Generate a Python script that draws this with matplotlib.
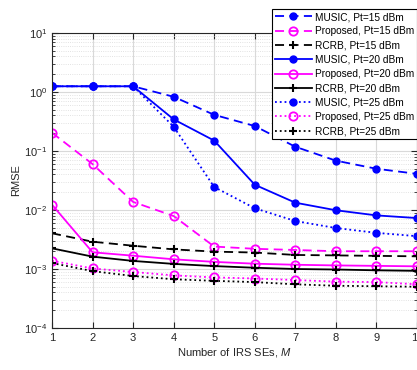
import numpy as np
import matplotlib.pyplot as plt

# number of IRS SEs
M = [1, 2, 3, 4, 5, 6, 7, 8, 9, 10]

# RMSE values
music_15 = [1.25, 1.25, 1.25, 0.83, 0.41, 0.265, 0.118, 0.0686, 0.050, 0.041]
prop_15 = [0.204, 0.060, 0.0137, 0.0079, 0.0024, 0.0022, 0.0021, 0.0020, 0.0020, 0.0020]
rcrb_15 = [0.00403, 0.0029, 0.00248, 0.00215, 0.00197, 0.0019, 0.00173, 0.0017, 0.00167, 0.00164]

music_20 = [1.25, 1.25, 1.25, 0.344, 0.15, 0.0268, 0.0133, 0.0099, 0.0081, 0.0073]
prop_20 = [0.0123, 0.00192, 0.00168, 0.00146, 0.00132, 0.00123, 0.00118, 0.00115, 0.00113, 0.00111]
rcrb_20 = [0.00224, 0.00162, 0.00137, 0.00122, 0.00112, 0.00105, 0.0010, 0.00098, 0.00095, 0.00093]

music_25 = [1.25, 1.25, 1.25, 0.258, 0.0245, 0.0107, 0.0065, 0.00495, 0.0041, 0.0036]
prop_25 = [0.00138, 0.00102, 0.00089, 0.00078, 0.00072, 0.00069, 0.00065, 0.00061, 0.0006, 0.00055]
rcrb_25 = [0.00126, 0.00092, 0.00076, 0.00067, 0.00063, 0.0006, 0.00055, 0.00052, 0.00051, 0.0005]

plt.rcParams['font.family'] = ['Liberation Sans', 'DejaVu Sans']
plt.rcParams['mathtext.fontset'] = 'custom'
plt.rcParams['mathtext.it'] = 'Liberation Sans:italic'
plt.rcParams['mathtext.rm'] = 'Liberation Sans'

fig = plt.figure(figsize=(4.17, 3.70), dpi=100)
ax = fig.add_axes([52/417, 1 - 328/370, (417 - 52)/417, (328 - 33)/370])

blue = (0, 0, 1)
mag = (1, 0, 1)
lw = 1.3
dash = (0, (5, 3))

ax.semilogy(M, music_15, ls=dash, color=blue, lw=lw, marker='o', ms=5, mfc=blue, label='MUSIC, Pt=15 dBm')
ax.semilogy(M, prop_15, ls=dash, color=mag, lw=lw, marker='o', ms=6, mfc='none', mew=1.3, label='Proposed, Pt=15 dBm')
ax.semilogy(M, rcrb_15, ls=dash, color='k', lw=lw, marker='+', ms=6, mew=1.5, label='RCRB, Pt=15 dBm')
ax.semilogy(M, music_20, '-', color=blue, lw=lw, marker='o', ms=5, mfc=blue, label='MUSIC, Pt=20 dBm')
ax.semilogy(M, prop_20, '-', color=mag, lw=lw, marker='o', ms=6, mfc='none', mew=1.3, label='Proposed, Pt=20 dBm')
ax.semilogy(M, rcrb_20, '-', color='k', lw=lw, marker='+', ms=6, mew=1.5, label='RCRB, Pt=20 dBm')
ax.semilogy(M, music_25, ':', color=blue, lw=lw, marker='o', ms=5, mfc=blue, label='MUSIC, Pt=25 dBm')
ax.semilogy(M, prop_25, ':', color=mag, lw=lw, marker='o', ms=6, mfc='none', mew=1.3, label='Proposed, Pt=25 dBm')
ax.semilogy(M, rcrb_25, ':', color='k', lw=lw, marker='+', ms=6, mew=1.5, label='RCRB, Pt=25 dBm')

ax.set_xlim(1, 10)
ax.set_ylim(1e-4, 1e1)
ax.set_xticks(M)
ax.grid(True, which='major', color='0.85', lw=0.8)
ax.grid(True, which='minor', color='0.85', lw=0.6, ls=':')
ax.tick_params(which='both', direction='in', top=True, right=True, labelsize=8, colors='0.15')
ax.tick_params(which='major', length=4)
ax.tick_params(which='minor', length=2)
for s in ax.spines.values():
    s.set_color('0.15')
    s.set_linewidth(0.8)

ax.set_xlabel('Number of IRS SEs, $M$', fontsize=8, color='0.15', labelpad=2)
ax.set_ylabel('RMSE', fontsize=8, color='0.15', labelpad=2)

leg = fig.legend(loc='upper right', bbox_to_anchor=(1.0, 1 - 9/370), fontsize=7.3,
                 handlelength=3.6, handletextpad=0.3, borderpad=0.3, labelspacing=0.42,
                 borderaxespad=0, fancybox=False, framealpha=1, edgecolor='k')
leg.get_frame().set_linewidth(0.8)

fig.savefig('out.png', dpi=100)
